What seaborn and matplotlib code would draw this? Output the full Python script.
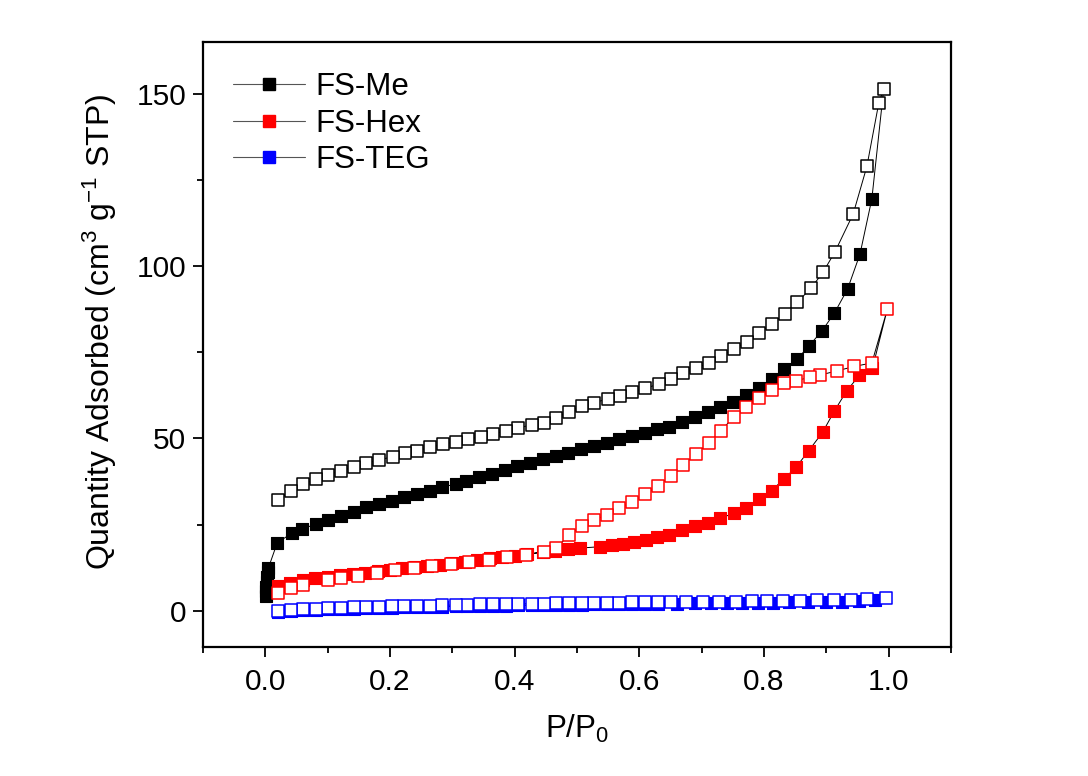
import numpy as np
import matplotlib
matplotlib.use("Agg")
import matplotlib.pyplot as plt
from matplotlib.lines import Line2D
from matplotlib.ticker import MultipleLocator, FormatStrFormatter
import seaborn as sns

# ---------------- data ----------------
me_ads_x = [0.0005, 0.001, 0.0015, 0.002, 0.003, 0.004, 0.005,
            0.019, 0.043, 0.059, 0.081, 0.101, 0.121, 0.143, 0.162, 0.183, 0.203,
            0.223, 0.244, 0.264, 0.284, 0.306, 0.322,
            0.343, 0.363, 0.384, 0.404, 0.425, 0.445, 0.466, 0.486, 0.507, 0.527,
            0.548, 0.568, 0.589, 0.609, 0.629, 0.648,
            0.668, 0.690, 0.710, 0.730, 0.751, 0.771, 0.792, 0.812, 0.832, 0.853,
            0.872, 0.893, 0.913, 0.934, 0.954, 0.973]
me_ads_y = [4.3, 5.7, 7.0, 8.4, 9.8, 11.2, 12.5,
            19.7, 22.6, 23.7, 25.2, 26.4, 27.5, 28.7, 30.1, 31.0, 31.9,
            33.0, 33.9, 34.8, 35.9, 36.8, 37.7,
            38.8, 39.8, 40.9, 41.9, 43.0, 43.9, 44.9, 45.8, 46.8, 47.7,
            48.7, 49.7, 50.7, 51.7, 52.6, 53.4,
            54.8, 56.2, 57.7, 59.1, 60.6, 62.6, 64.6, 67.2, 70.1, 73.0,
            76.8, 81.2, 86.4, 93.3, 103.5, 119.5]
me_des_x = [0.992, 0.984, 0.965, 0.943, 0.914, 0.895, 0.875, 0.853, 0.833, 0.812,
            0.792, 0.772, 0.752, 0.731, 0.712, 0.691, 0.670, 0.650, 0.631, 0.609,
            0.589, 0.569, 0.549, 0.527, 0.508, 0.487, 0.467, 0.447, 0.427, 0.406,
            0.386, 0.365, 0.346, 0.325, 0.306, 0.285, 0.264, 0.244, 0.224, 0.204,
            0.183, 0.162, 0.143, 0.122, 0.101, 0.081, 0.061, 0.041, 0.021]
me_des_y = [151.4, 147.2, 128.9, 115.1, 104.2, 98.3, 93.5, 89.5, 86.1, 83.2,
            80.5, 78.1, 75.9, 73.9, 72.0, 70.3, 68.9, 67.2, 65.8, 64.5,
            63.6, 62.4, 61.4, 60.4, 59.4, 57.8, 56.0, 54.6, 53.9, 53.1,
            52.2, 51.3, 50.5, 49.8, 49.1, 48.3, 47.4, 46.5, 45.7, 44.7,
            43.8, 42.8, 41.7, 40.7, 39.4, 38.2, 36.7, 34.9, 32.2]

hex_ads_x = [0.02, 0.04, 0.06, 0.08, 0.10, 0.12, 0.14, 0.16, 0.18, 0.20,
             0.22, 0.24, 0.26, 0.28, 0.30, 0.32, 0.34, 0.36, 0.38, 0.40, 0.42,
             0.445, 0.465, 0.485, 0.505,
             0.537, 0.556, 0.574, 0.592, 0.611, 0.629, 0.648,
             0.669, 0.690, 0.710, 0.730, 0.752, 0.771, 0.792, 0.812, 0.832, 0.852,
             0.872, 0.894, 0.913, 0.933, 0.953, 0.974]
hex_ads_y = [7.3, 8.2, 8.9, 9.4, 9.9, 10.3, 10.7, 11.1, 11.5, 11.9,
             12.3, 12.6, 13.0, 13.4, 13.8, 14.3, 14.8, 15.2, 15.6, 16.0, 16.5,
             17.0, 17.4, 17.9, 18.2,
             18.6, 19.0, 19.5, 20.0, 20.6, 21.3, 22.0,
             23.5, 24.6, 25.6, 26.9, 28.3, 29.9, 32.4, 34.9, 38.2, 41.8,
             46.5, 51.8, 58.0, 63.9, 68.3, 70.4]
hex_des_x = [0.998, 0.973, 0.945, 0.917, 0.890, 0.873, 0.852, 0.832, 0.812, 0.792,
             0.771, 0.752, 0.731, 0.712, 0.691, 0.670, 0.650, 0.630, 0.609, 0.589,
             0.568, 0.548, 0.527, 0.508, 0.487, 0.467, 0.447, 0.418, 0.388, 0.358,
             0.327, 0.298, 0.268, 0.239, 0.208, 0.179, 0.148, 0.121, 0.101, 0.060,
             0.041, 0.021]
hex_des_y = [87.6, 71.9, 70.9, 69.6, 68.4, 67.7, 66.8, 66.0, 64.1, 61.6,
             59.2, 56.3, 52.3, 48.8, 45.5, 42.3, 39.1, 36.2, 33.8, 31.7,
             29.8, 27.8, 26.4, 24.6, 22.0, 18.2, 17.2, 16.2, 15.6, 14.8,
             14.3, 13.6, 13.1, 12.4, 11.7, 10.9, 10.1, 9.5, 9.0, 7.5,
             6.6, 5.1]

teg_ads_x = [0.021, 0.041, 0.06, 0.081, 0.101, 0.121, 0.143, 0.162, 0.183,
             0.203, 0.223, 0.244, 0.264, 0.284, 0.306, 0.324, 0.345, 0.365, 0.386,
             0.406, 0.427, 0.447, 0.467, 0.487, 0.508, 0.527, 0.548, 0.568, 0.589,
             0.609, 0.63, 0.66, 0.69, 0.715, 0.74, 0.765, 0.79, 0.815, 0.84,
             0.87, 0.9, 0.925, 0.952, 0.978]
teg_ads_y = [-0.4, -0.1, 0.1, 0.2, 0.4, 0.5, 0.6, 0.7, 0.8,
             0.9, 1.0, 1.0, 1.1, 1.2, 1.3, 1.3, 1.4, 1.5, 1.5,
             1.6, 1.6, 1.7, 1.7, 1.8, 1.8, 1.9, 1.9, 2.0, 2.0,
             2.0, 2.1, 2.1, 2.2, 2.2, 2.3, 2.3, 2.4, 2.4, 2.5,
             2.5, 2.6, 2.7, 2.8, 3.0]
teg_des_x = [0.995, 0.965, 0.939, 0.912, 0.885, 0.858, 0.83, 0.805, 0.78, 0.755,
             0.728, 0.702, 0.675, 0.65, 0.63, 0.609, 0.589, 0.568, 0.548, 0.527,
             0.508, 0.487, 0.467, 0.447, 0.427, 0.406, 0.386, 0.365, 0.345, 0.324,
             0.306, 0.284, 0.264, 0.244, 0.223, 0.203, 0.183, 0.162, 0.143, 0.121,
             0.101, 0.081, 0.06, 0.041, 0.021]
teg_des_y = [3.6, 3.3, 3.2, 3.1, 3.0, 2.9, 2.9, 2.8, 2.8, 2.7,
             2.7, 2.7, 2.6, 2.6, 2.6, 2.5, 2.5, 2.4, 2.4, 2.3,
             2.3, 2.2, 2.2, 2.1, 2.1, 2.0, 2.0, 1.9, 1.9, 1.8,
             1.7, 1.6, 1.5, 1.5, 1.4, 1.3, 1.2, 1.1, 1.0, 0.9,
             0.8, 0.6, 0.4, 0.2, 0.0]

labels = ["FS-Me", "FS-Hex", "FS-TEG"]
colors = ["#000000", "#ff0000", "#0000ff"]
x_ticks = [0.0, 0.2, 0.4, 0.6, 0.8, 1.0]
y_ticks = [0, 50, 100, 150]

series = [(me_ads_x, me_ads_y, me_des_x, me_des_y),
          (hex_ads_x, hex_ads_y, hex_des_x, hex_des_y),
          (teg_ads_x, teg_ads_y, teg_des_x, teg_des_y)]

# ---------------- style ----------------
sns.set_style("ticks")
plt.rcParams["font.family"] = ["Liberation Sans", "DejaVu Sans"]
plt.rcParams["mathtext.fontset"] = "custom"
plt.rcParams["mathtext.rm"] = "Liberation Sans"
plt.rcParams["mathtext.it"] = "Liberation Sans:italic"
plt.rcParams["mathtext.bf"] = "Liberation Sans:bold"
plt.rcParams["text.color"] = "black"
plt.rcParams["axes.labelcolor"] = "black"
plt.rcParams["xtick.color"] = "black"
plt.rcParams["ytick.color"] = "black"

fig = plt.figure(figsize=(10.88, 7.76), dpi=100)
ax = fig.add_axes([0.1866, 0.1662, 0.6875, 0.7797])

ms = 80
z = 1
for (ax_, ay_, dx_, dy_), col in zip(series, colors):
    px = list(ax_) + list(dx_)
    py = list(ay_) + list(dy_)
    sns.lineplot(x=px, y=py, sort=False, estimator=None, color="black",
                 linewidth=0.7, ax=ax, zorder=z, legend=False)
    sns.scatterplot(x=ax_, y=ay_, marker="s", color=col, edgecolor=col,
                    s=ms, linewidth=0.8, ax=ax, zorder=z + 1, legend=False)
    sns.scatterplot(x=dx_, y=dy_, marker="s", color="white", edgecolor=col,
                    s=ms, linewidth=1.1, ax=ax, zorder=z + 2, legend=False)
    z += 3

ax.set_xlim(-0.1, 1.1)
ax.set_ylim(-10.5, 165)
ax.set_xticks(x_ticks)
ax.set_yticks(y_ticks)
ax.xaxis.set_minor_locator(MultipleLocator(0.1))
ax.yaxis.set_minor_locator(MultipleLocator(25))
ax.xaxis.set_major_formatter(FormatStrFormatter("%.1f"))
ax.yaxis.set_major_formatter(FormatStrFormatter("%d"))

ax.tick_params(axis="both", which="major", direction="out", length=7, width=1.3,
               labelsize=21.5, colors="black")
ax.tick_params(axis="both", which="minor", direction="out", length=4.5, width=1.3,
               colors="black")
ax.tick_params(axis="x", which="major", pad=8)
ax.tick_params(axis="y", which="major", pad=5)
for sp in ax.spines.values():
    sp.set_visible(True)
    sp.set_linewidth(1.6)
    sp.set_color("black")

ax.set_xlabel("P/P$_0$", fontsize=22.5, labelpad=12, color="black")
ax.set_ylabel("Quantity Adsorbed (cm$^3$ g$^{-1}$ STP)", fontsize=23,
              color="black")
ax.yaxis.set_label_coords(-0.112, 0.52)

handles = [Line2D([0], [0], color="#555555", linewidth=0.8, marker="s",
                  markersize=9, markerfacecolor=c, markeredgecolor=c)
           for c in colors]
leg = ax.legend(handles, labels, loc="upper left", frameon=False, fontsize=22.5,
                handlelength=2.3, handletextpad=0.35, labelspacing=0.22,
                borderaxespad=0.55, borderpad=0.4)
for t in leg.get_texts():
    t.set_color("black")

fig.savefig("out.png", dpi=100)
